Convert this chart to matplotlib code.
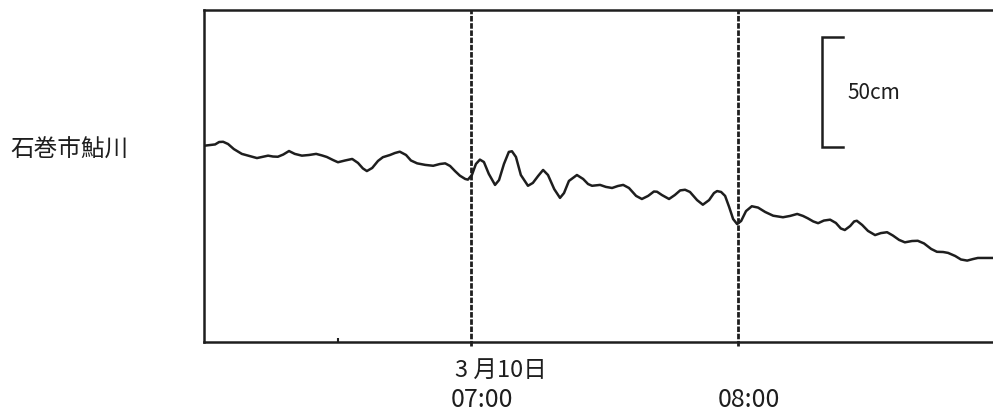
import matplotlib
matplotlib.use('Agg')
import matplotlib.pyplot as plt

plt.rcParams['font.family'] = ['Noto Sans CJK JP', 'DejaVu Sans']

# minutes after 06:00 on 10 March, tide level in cm (arbitrary zero)
minutes = [
    0.0, 1.3, 2.5, 3.4, 4.3, 5.4, 6.7, 8.5, 10.3, 11.9, 13.0, 14.4, 15.5,
    16.6, 17.8, 19.1, 20.4, 22.0, 23.6, 25.2, 26.5, 27.6, 29.0, 30.1, 31.7,
    33.3, 34.6, 35.7, 36.6, 37.8, 39.1, 40.2, 41.8, 42.9, 44.0, 45.4, 46.5,
    47.9, 49.7, 51.5, 53.0, 54.2, 55.3, 56.4, 57.5, 58.7, 59.3,
    60.2, 61.1, 62.0, 62.9, 64.0, 65.4, 66.3, 67.4, 68.5, 69.2, 70.1, 71.2,
    72.8, 73.9, 75.1, 76.2, 77.3, 78.7, 80.0, 80.9, 82.0, 83.8, 85.2, 86.3,
    87.2, 89.0, 90.3, 91.7, 93.0, 94.2, 95.5, 97.1, 98.4, 99.8, 101.1,
    101.8, 102.9, 104.5, 105.8, 107.0, 108.1, 109.2, 110.8, 112.1, 113.5,
    114.6, 115.3, 116.2, 117.1, 118.0, 118.9, 119.8,
    120.7, 121.8, 123.1, 124.5, 126.1, 127.9, 130.1, 131.7, 133.3, 134.6,
    135.7, 136.9, 138.0, 139.3, 140.7, 142.0, 143.1, 144.0, 145.2, 146.1,
    146.7, 147.9, 149.2, 150.8, 152.1, 153.5, 154.8, 156.2, 157.5, 159.1,
    160.4, 161.8, 163.4, 164.7, 166.1, 167.2, 168.8, 170.1, 171.5, 172.8,
    173.9, 175.5, 177.3,
]
level = [
    89.2, 89.5, 89.8, 90.9, 91.0, 90.0, 87.7, 85.5, 84.5, 83.6, 84.1, 84.7,
    84.3, 84.2, 85.2, 86.8, 85.5, 84.7, 85.0, 85.5, 84.8, 84.1, 82.7, 81.7,
    82.5, 83.2, 81.4, 78.9, 77.7, 79.1, 82.3, 84.0, 85.0, 85.9, 86.5, 85.0,
    82.5, 81.2, 80.5, 80.1, 80.9, 81.2, 80.0, 77.7, 75.6, 74.1, 73.8,
    75.9, 80.9, 82.9, 81.8, 76.4, 71.4, 73.6, 80.9, 86.4, 86.7, 84.1, 75.9,
    71.0, 72.3, 75.5, 78.2, 75.9, 69.5, 65.5, 67.7, 73.2, 75.9, 74.1, 71.8,
    71.0, 71.4, 70.5, 70.0, 70.9, 71.4, 70.0, 66.4, 65.0, 66.4, 68.4,
    68.3, 66.8, 65.0, 66.8, 68.9, 69.2, 68.2, 64.5, 62.4, 64.5,
    67.7, 68.6, 68.2, 66.4, 61.4, 55.9, 53.6,
    55.0, 59.5, 61.7, 61.1, 59.1, 57.4, 56.7, 57.3, 58.2, 57.3,
    56.2, 54.8, 54.0, 55.2, 55.6, 54.1, 51.6, 50.9, 52.7, 54.8,
    55.1, 53.2, 50.5, 48.6, 49.5, 49.9, 48.4, 46.4, 45.3, 45.9,
    46.0, 44.8, 42.3, 41.0, 40.9, 40.5, 39.1, 37.5, 37.0, 37.7,
    38.2, 38.2, 38.2,
]

hour_marks = [60, 120]
time_labels = ['07:00', '08:00']
date_label = '3 月10日'
scale_x = 138.9      # minutes
scale_base = 88.6    # cm
scale_len = 50       # cm

fig = plt.figure(figsize=(9.93, 4.14), dpi=100)
ax = fig.add_axes([204 / 993, 1 - 343 / 414, 1 - 204 / 993, (343 - 11) / 414])
ax.set_xlim(0, 177.3)
ax.set_ylim(0, 150.9)

ink = '#1e1e1e'
ax.plot(minutes, level, color=ink, lw=1.8, solid_joinstyle='round',
        solid_capstyle='round')

for m in hour_marks:
    ax.axvline(m, ymin=-0.012, ymax=1, color=ink, lw=2.0,
               linestyle=(0, (2.0, 0.6)), clip_on=False)

# scale bar
ax.plot([scale_x + 4.7, scale_x, scale_x, scale_x + 4.7],
        [scale_base + scale_len, scale_base + scale_len, scale_base, scale_base],
        color=ink, lw=1.8, solid_joinstyle='miter')
ax.text(scale_x + 5.6, scale_base + scale_len / 2, '50cm', fontsize=15,
        va='center', ha='left', color=ink)

for s in ['left', 'bottom', 'top']:
    ax.spines[s].set_linewidth(1.8)
    ax.spines[s].set_color(ink)
ax.spines['right'].set_visible(False)

ax.set_yticks([])
ax.set_xticks([30])
ax.tick_params(axis='x', direction='in', length=3, width=1.5, color=ink,
               labelbottom=False)

ax.annotate(date_label, xy=(hour_marks[0], 0),
            xycoords=('data', 'axes fraction'), xytext=(-16, -16),
            textcoords='offset pixels', ha='left', va='top', fontsize=17,
            color=ink)
for m, lab in zip(hour_marks, time_labels):
    ax.annotate(lab, xy=(m, 0), xycoords=('data', 'axes fraction'),
                xytext=(-20, -44), textcoords='offset pixels',
                ha='left', va='top', fontsize=18, color=ink)

fig.text(10 / 993, 1 - 150 / 414, '石巻市鮎川', fontsize=17, va='center',
         ha='left', color=ink)

fig.savefig('out.png', dpi=100)
